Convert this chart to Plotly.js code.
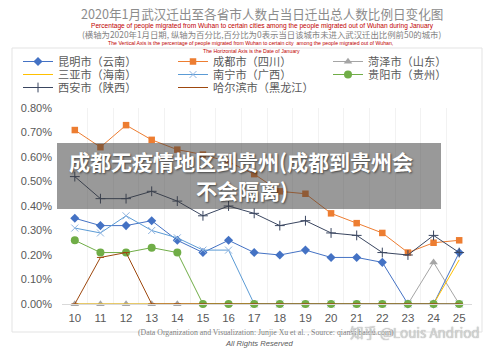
<!DOCTYPE html>
<html>
<head>
<meta charset="utf-8">
<script src="https://cdn.plot.ly/plotly-3.0.1.min.js"></script>
<style>html,body{margin:0;padding:0;background:#fff;}#chart{width:500px;height:353px;}</style>
</head>
<body>
<div id="chart"></div>
<script>
// ---- data (percent of people leaving Wuhan, by day of January 2020) ----
const days = [10,11,12,13,14,15,16,17,18,19,20,21,22,23,24,25];
const kunming = [0.35,0.32,0.32,0.34,0.26,0.21,0.26,0.21,0.20,0.22,0.19,0.19,0.17,0,0,0.21];
const chengdu = [0.71,0.64,0.73,0.67,0.63,0.61,0.58,0.53,0.46,0.45,0.37,0.33,0.29,0.21,0.25,0.26];
const heze    = [0,0,0,0,0,0,0,0,0,0,0,0,0,0,0.17,0];
const sanya   = [0,0,0,0,0,0,0,0,0,0,0,0,0,0,0,0.18];
const nanning = [0.31,0.29,0.36,0.30,0.27,0.22,0.22,0,0,0,0,0,0,0,0,0];
const guiyang = [0.26,0.21,0.21,0.23,0.21,0,0,0,0,0,0,0,0,0,0,0];
const xian    = [0.52,0.43,0.43,0.46,0.42,0.36,0.40,0.37,0.32,0.34,0.29,0.28,0.21,0.20,0.28,0.21];
const harbin  = [0,0.19,0.21,0,0,0,0,0,0,0,0,0,0,0,0,0];
const seriesNames = ['昆明市（云南）','成都市（四川）','菏泽市（山东）','三亚市（海南）','南宁市（广西）','贵阳市（贵州）','西安市（陕西）','哈尔滨市（黑龙江）'];
const yTicks = [0,0.1,0.2,0.3,0.4,0.5,0.6,0.7,0.8];

// ---- layout helpers (pixel -> paper) ----
const L = 62, R = 28, T = 108, B = 49, W = 500, H = 353;
const PW = W - L - R, PH = H - T - B;
const px = x => (x - L) / PW;
const py = y => (H - B - y) / PH;

const CJK = '"Noto Sans CJK SC", "Noto Sans", sans-serif';
const SANS = '"Liberation Sans", Arial, sans-serif';
const SERIF = '"Liberation Serif", "DejaVu Serif", serif';

function tr(y, name, color, marker, legend) {
  const t = {
    x: days, y: y, name: name, type: 'scatter',
    mode: marker ? 'lines+markers' : 'lines',
    line: {color: color, width: 1},
    legend: legend, cliponaxis: false, hoverinfo: 'skip'
  };
  if (marker) t.marker = marker;
  return t;
}

const data = [
  tr(kunming, seriesNames[0], '#4472C4', {symbol:'diamond', size:7, color:'#4472C4'}, 'legend'),
  tr(chengdu, seriesNames[1], '#ED7D31', {symbol:'square', size:6.5, color:'#ED7D31'}, 'legend'),
  tr(heze,    seriesNames[2], '#A5A5A5', {symbol:'triangle-up', size:7.5, color:'#A5A5A5'}, 'legend'),
  tr(sanya,   seriesNames[3], '#FFC000', null, 'legend2'),
  tr(nanning, seriesNames[4], '#5B9BD5', {symbol:'x-thin', size:7, color:'#5B9BD5', line:{width:1, color:'#8FB4E0'}}, 'legend2'),
  tr(guiyang, seriesNames[5], '#70AD47', {symbol:'circle', size:8, color:'#70AD47'}, 'legend2'),
  tr(xian,    seriesNames[6], '#3A4660', {symbol:'cross-thin', size:7, color:'#3A4660', line:{width:1, color:'#3A4660'}}, 'legend3'),
  tr(harbin,  seriesNames[7], '#9E480E', {symbol:'line-ew', size:5, color:'#9E480E', line:{width:1, color:'#9E480E'}}, 'legend3')
];

function leg(yPix) {
  return {
    orientation: 'h', x: px(18), y: py(yPix), xanchor: 'left', yanchor: 'middle',
    entrywidth: 110, itemwidth: 30, bgcolor: 'rgba(0,0,0,0)',
    font: {family: CJK, size: 11.2, color: '#595959'}, traceorder: 'normal'
  };
}

function ann(text, x, y, size, color, family, extra) {
  return Object.assign({
    text: text, x: px(x), y: py(y), xref: 'paper', yref: 'paper',
    xanchor: 'center', yanchor: 'middle', showarrow: false,
    font: {size: size, color: color, family: family}
  }, extra || {});
}

const layout = {
  width: W, height: H,
  margin: {l: L, r: R, t: T, b: B, pad: 0},
  paper_bgcolor: '#ffffff', plot_bgcolor: 'rgba(0,0,0,0)',
  showlegend: true,
  legend: leg(61.5), legend2: leg(74.5), legend3: leg(87.5),
  xaxis: {
    range: [9.5, 25.5], tickmode: 'array', tickvals: days, ticktext: days.map(String),
    showgrid: false, zeroline: false, showline: true, linecolor: '#D9D9D9', linewidth: 1,
    ticks: '', ticklabelstandoff: 3,
    tickfont: {family: SANS, size: 11.5, color: '#595959'},
    minor: {showgrid: true, tick0: 9.5, dtick: 1, gridcolor: '#F2F2F2', gridwidth: 1, ticks: ''}
  },
  yaxis: {
    range: [0, 0.8], tickmode: 'array', tickvals: yTicks,
    ticktext: yTicks.map(v => v.toFixed(2) + '%'),
    showgrid: false, zeroline: false, showline: false, ticks: '', ticklabelstandoff: 9,
    tickfont: {family: SANS, size: 11, color: '#595959'}
  },
  shapes: [
    {type: 'rect', xref: 'paper', yref: 'paper', x0: px(12), x1: px(482), y0: py(48), y1: py(332),
     line: {color: '#E3E3E3', width: 1}, fillcolor: 'rgba(0,0,0,0)', layer: 'below'},
    {type: 'rect', xref: 'paper', yref: 'paper', x0: px(57), x1: px(441), y0: py(143), y1: py(209),
     line: {width: 0}, fillcolor: 'rgba(60,60,60,0.52)', layer: 'above'}
  ],
  annotations: [
    ann('2020年1月武汉迁出至各省市人数占当日迁出总人数比例日变化图', 261.5, 13.3, 12.6, '#8C8C8C', CJK),
    ann('Percentage of people migrated from Wuhan to certain cities among the people migrated out of Wuhan during January', 262, 25.5, 6.6, '#C00000', SANS),
    ann('(横轴为2020年1月日期, 纵轴为百分比,百分比为0表示当日该城市未进入武汉迁出比例前50的城市)', 261, 34, 8.4, '#7F7F7F', CJK),
    ann('The Vertical Axis is the percentage of people migrated from Wuhan to certain city  among the people migrated out of Wuhan,', 250, 42.5, 5.2, '#C00000', SANS),
    ann('The Horizontal Axis is the Date of January', 251, 50.5, 5.2, '#C00000', SANS),
    ann('(Data Organization and Visualization: Junjie Xu et al. , Source: qianxi.baidu.com)', 266, 332.5, 7.8, '#7F7F7F', SERIF),
    ann('<i>All Rights Reserved</i>', 259, 343, 7.6, '#595959', SANS),
    ann('知乎 @Louis Andriod', 415, 332, 13.5, 'rgba(215,215,215,0.95)', CJK,
        {font: {size: 13.5, color: 'rgba(215,215,215,0.95)', family: CJK, shadow: '0px 0px 1px rgba(120,120,120,0.8)'}}),
    ann('成都无疫情地区到贵州(成都到贵州会', 241, 161, 21, '#ffffff', CJK,
        {font: {size: 21, color: '#ffffff', family: CJK, weight: 'bold', shadow: '1px 1px 2px rgba(0,0,0,0.55)'}}),
    ann('不会隔离)', 242, 190, 21, '#ffffff', CJK,
        {font: {size: 21, color: '#ffffff', family: CJK, weight: 'bold', shadow: '1px 1px 2px rgba(0,0,0,0.55)'}})
  ]
};

Plotly.newPlot('chart', data, layout, {displayModeBar: false, staticPlot: true});
</script>
</body>
</html>
